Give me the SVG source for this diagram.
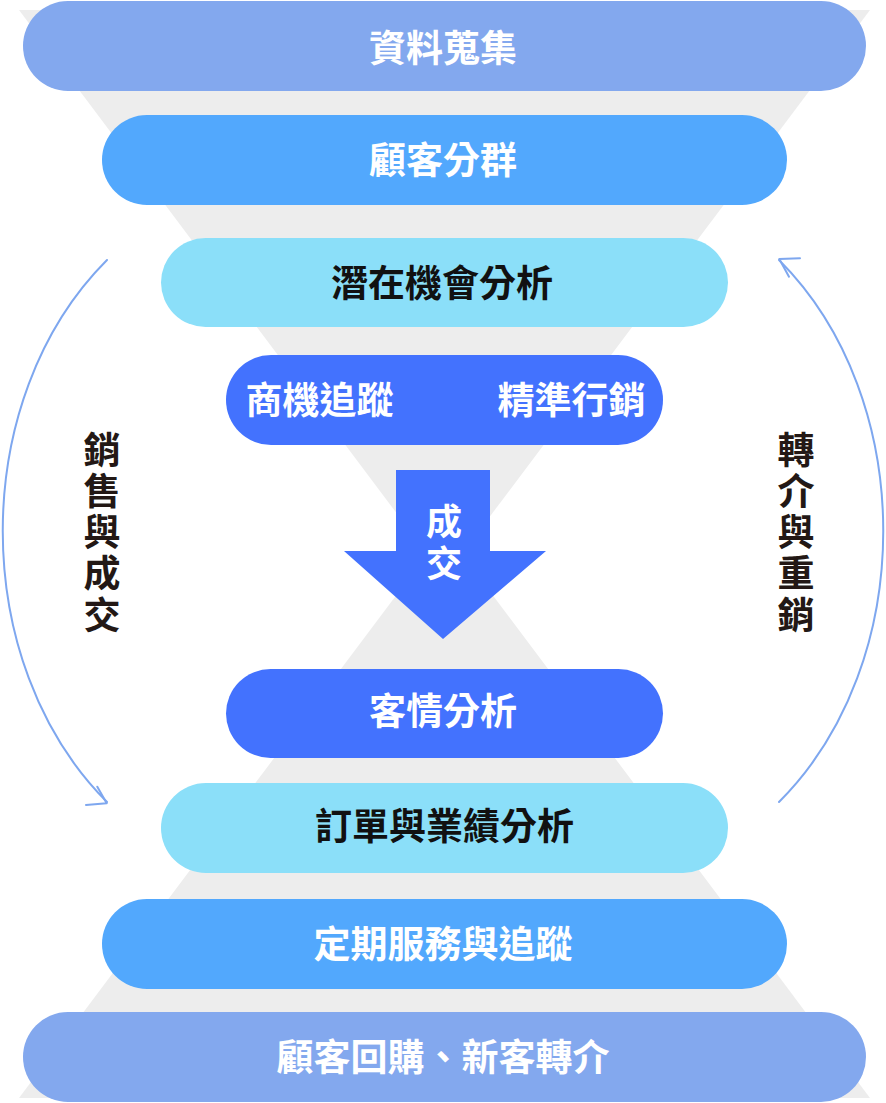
<svg xmlns="http://www.w3.org/2000/svg" width="886" height="1103" viewBox="0 0 886 1103">
  <style>
    .t { font-family: "Noto Sans CJK TC", "Noto Sans CJK SC", sans-serif; font-weight: 700; font-size: 37px; text-anchor: middle; }
    .w { fill: #ffffff; }
    .k { fill: #111111; }
    .side { font-family: "Noto Sans CJK TC", "Noto Sans CJK SC", sans-serif; font-weight: 700; font-size: 37px; text-anchor: middle; fill: #231815; }
    .c1 { fill: #83a8ee; }
    .c2 { fill: #52a8fd; }
    .c3 { fill: #8bdff9; }
    .c4 { fill: #4372fe; }
    .arc { fill: none; stroke: #7ea7ef; stroke-width: 2; stroke-linecap: round; stroke-linejoin: round; }
  </style>
  <rect width="886" height="1103" fill="#ffffff"/>
  <g id="funnel">
    <polygon points="19,10 870,10 444.5,577" fill="#ededed"/>
    <polygon points="19,1098 870,1098 444.5,531" fill="#ededed"/>
  </g>
  <g id="node-data">
    <rect class="c1" x="23" y="1" width="843" height="90" rx="45"/>
    <text class="t w" x="443" y="62">資料蒐集</text>
  </g>
  <g id="node-segment">
    <rect class="c2" x="102" y="115" width="685" height="90" rx="45"/>
    <text class="t w" x="443" y="174">顧客分群</text>
  </g>
  <g id="node-potential">
    <rect class="c3" x="161" y="238" width="567" height="89" rx="44.5"/>
    <text class="t k" x="442" y="297">潛在機會分析</text>
  </g>
  <g id="node-track">
    <rect class="c4" x="226" y="355" width="437" height="90" rx="45"/>
    <text class="t w" x="319.5" y="414">商機追蹤</text>
    <text class="t w" x="571.5" y="414">精準行銷</text>
  </g>
  <g id="node-deal">
    <path class="c4" d="M396,470 H490 V551 H546 L443,639 L344,551 H396 Z"/>
    <text class="t w" x="444" y="535" style="font-size:36px">成</text>
    <text class="t w" x="444" y="576.5" style="font-size:36px">交</text>
  </g>
  <g id="node-relation">
    <rect class="c4" x="226" y="669" width="437" height="89" rx="44.5"/>
    <text class="t w" x="443" y="725">客情分析</text>
  </g>
  <g id="node-orders">
    <rect class="c3" x="161" y="783" width="567" height="90" rx="45"/>
    <text class="t k" x="444.5" y="840">訂單與業績分析</text>
  </g>
  <g id="node-service">
    <rect class="c2" x="102" y="899" width="685" height="90" rx="45"/>
    <text class="t w" x="443" y="958">定期服務與追蹤</text>
  </g>
  <g id="node-repurchase">
    <rect class="c1" x="23" y="1012" width="843" height="90" rx="45"/>
    <text class="t w" x="443" y="1071">顧客回購、新客轉介</text>
  </g>
  <g id="connectors">
    <path class="arc" d="M107,260 C-32,399 -32,663 107,802"/>
    <path class="arc" d="M86,805 L106.7,803.3 L97.3,786.7"/>
    <path class="arc" d="M779,802 C918,663 918,399 779,260"/>
    <path class="arc" d="M800,258.3 L779.3,259 L789,276.7"/>
  </g>
  <g id="label-sales">
    <text class="side" x="102" y="464">銷</text>
    <text class="side" x="102" y="505">售</text>
    <text class="side" x="102" y="546">與</text>
    <text class="side" x="102" y="587">成</text>
    <text class="side" x="102" y="629">交</text>
  </g>
  <g id="label-referral">
    <text class="side" x="796" y="464">轉</text>
    <text class="side" x="796" y="505">介</text>
    <text class="side" x="796" y="546">與</text>
    <text class="side" x="796" y="587">重</text>
    <text class="side" x="796" y="629">銷</text>
  </g>
</svg>
